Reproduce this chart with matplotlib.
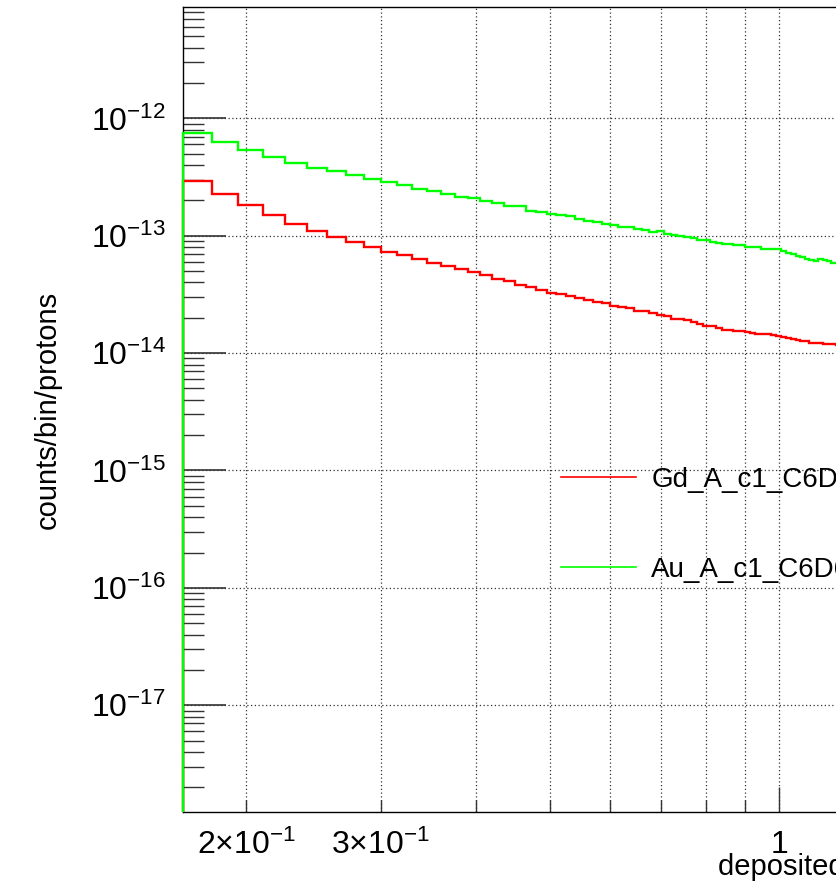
import numpy as np
import matplotlib
matplotlib.use("Agg")
import matplotlib.pyplot as plt

plt.rcParams['font.family'] = ['Liberation Sans', 'DejaVu Sans']
plt.rcParams['mathtext.fontset'] = 'custom'
plt.rcParams['mathtext.rm'] = 'Liberation Sans'
plt.rcParams['mathtext.it'] = 'Liberation Sans:italic'
plt.rcParams['mathtext.bf'] = 'Liberation Sans:bold'

# binning of the deposited energy histograms (MeV)
bin_lo = 0.165
bin_width = 0.015
n_bins = 69

# counts/bin/protons per bin, Gd sample
gd_counts = [
    2.94e-13, 2.26e-13, 1.82e-13, 1.50e-13, 1.27e-13, 1.09e-13, 9.79e-14, 8.87e-14,
    7.95e-14, 7.29e-14, 6.83e-14, 6.28e-14, 5.87e-14, 5.54e-14, 5.22e-14, 4.89e-14,
    4.64e-14, 4.29e-14, 4.08e-14, 3.84e-14, 3.67e-14, 3.48e-14, 3.28e-14, 3.16e-14,
    3.07e-14, 2.96e-14, 2.82e-14, 2.72e-14, 2.65e-14, 2.53e-14, 2.46e-14, 2.43e-14,
    2.28e-14, 2.27e-14, 2.20e-14, 2.13e-14, 2.06e-14, 1.97e-14, 1.96e-14, 1.91e-14,
    1.85e-14, 1.76e-14, 1.70e-14, 1.69e-14, 1.63e-14, 1.57e-14, 1.56e-14, 1.54e-14,
    1.53e-14, 1.50e-14, 1.47e-14, 1.46e-14, 1.46e-14, 1.45e-14, 1.42e-14, 1.39e-14,
    1.38e-14, 1.35e-14, 1.31e-14, 1.30e-14, 1.27e-14, 1.26e-14, 1.23e-14, 1.22e-14,
    1.21e-14, 1.20e-14, 1.20e-14, 1.19e-14, 1.18e-14,
]

# counts/bin/protons per bin, Au sample
au_counts = [
    7.45e-13, 6.24e-13, 5.40e-13, 4.65e-13, 4.18e-13, 3.79e-13, 3.55e-13, 3.27e-13,
    3.02e-13, 2.88e-13, 2.70e-13, 2.48e-13, 2.41e-13, 2.29e-13, 2.15e-13, 2.09e-13,
    1.97e-13, 1.90e-13, 1.79e-13, 1.78e-13, 1.63e-13, 1.59e-13, 1.52e-13, 1.51e-13,
    1.47e-13, 1.39e-13, 1.34e-13, 1.30e-13, 1.27e-13, 1.24e-13, 1.19e-13, 1.18e-13,
    1.15e-13, 1.12e-13, 1.07e-13, 1.10e-13, 1.04e-13, 1.01e-13, 9.86e-14, 9.85e-14,
    9.59e-14, 9.23e-14, 9.22e-14, 8.82e-14, 8.65e-14, 8.53e-14, 8.52e-14, 8.36e-14,
    8.35e-14, 8.04e-14, 8.03e-14, 8.02e-14, 7.69e-14, 7.68e-14, 7.67e-14, 7.66e-14,
    7.39e-14, 7.11e-14, 6.97e-14, 6.77e-14, 6.57e-14, 6.38e-14, 6.26e-14, 6.07e-14,
    6.32e-14, 6.26e-14, 6.07e-14, 5.87e-14, 5.83e-14,
]

labels = ['Gd_A_c1_C6D6', 'Au_A_c1_C6D6']
colors = ['#ff0000', '#00ff00']

y_decades = [1e-17, 1e-16, 1e-15, 1e-14, 1e-13, 1e-12]
y_decade_labels = [r'$10^{-17}$', r'$10^{-16}$', r'$10^{-15}$',
                   r'$10^{-14}$', r'$10^{-13}$', r'$10^{-12}$']
x_minor = [0.2, 0.3, 0.4, 0.5, 0.6, 0.7, 0.8, 0.9]
x_minor_labels = [r'$2{\times}10^{-1}$', r'$3{\times}10^{-1}$', '', '', '', '', '', '']
x_major = [1.0]
x_major_labels = ['1']

y_bottom, y_top = 1.23e-18, 8.9e-12
edges = bin_lo + bin_width * np.arange(n_bins + 1)

W, H = 837, 886
fig = plt.figure(figsize=(W / 100, H / 100), dpi=100)
# the frame runs on past the right edge of the canvas
ax = fig.add_axes([182.7 / W, (H - 812) / H, 791.4 / W, 805 / H])

ax.set_xscale('log')
ax.set_yscale('log')
ax.set_xlim(0.165, 1.8)
ax.set_ylim(y_bottom, y_top)

# histogram outlines drop to the axis floor at the first bin edge
for vals, col, lab in zip([gd_counts, au_counts], colors, labels):
    ax.stairs(vals, edges, baseline=y_bottom, color=col, lw=1.7, label=lab,
              zorder=3, clip_on=False)

# ROOT-like ticks
ax.set_xticks(x_major, labels=x_major_labels)
ax.set_xticks(x_minor, labels=x_minor_labels, minor=True)
ax.set_yticks(y_decades, labels=y_decade_labels)
y_minor = [m * d for d in [1e-18] + y_decades for m in range(2, 10)]
ax.set_yticks(y_minor, minor=True)
ax.yaxis.set_minor_formatter(matplotlib.ticker.NullFormatter())
ax.set_ylim(y_bottom, y_top)

ax.tick_params(axis='both', which='both', direction='in', top=False, right=False,
               labelsize=23, color='#333333')
ax.tick_params(axis='x', which='major', length=18, width=1, pad=13)
ax.tick_params(axis='x', which='minor', length=9, width=1, pad=13)
ax.tick_params(axis='y', which='major', length=31, width=1.2, pad=12)
ax.tick_params(axis='y', which='minor', length=15, width=1, pad=12)

ax.grid(True, axis='x', which='both', linestyle=(0, (1, 2)), color='#333333', lw=0.9)
ax.grid(True, axis='y', which='major', linestyle=(0, (1, 2)), color='#333333', lw=0.9)

for sp in ax.spines.values():
    sp.set_linewidth(1.0)
    sp.set_color('black')

ax.set_ylabel('counts/bin/protons', fontsize=21, labelpad=0)
ax.yaxis.set_label_coords(-(182.7 - 48) / 791.4, 0.5)
ax.yaxis.label.set_verticalalignment('center')
fig.text(718 / W, (H - 867) / H, 'deposited energy [MeV]', fontsize=21,
         ha='left', va='center')

leg = ax.legend(loc='upper left', bbox_to_anchor=(561 / W, (H - 467) / H),
                bbox_transform=fig.transFigure, frameon=False, fontsize=20,
                handlelength=2.7, handletextpad=0.55, labelspacing=2.3,
                borderpad=0, borderaxespad=0)
for h in leg.get_lines():
    h.set_linewidth(1.2)

fig.savefig('out.png', dpi=100)
